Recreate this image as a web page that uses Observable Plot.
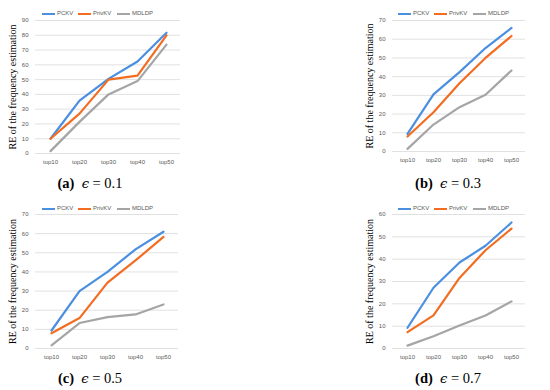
<!DOCTYPE html>
<html>
<head>
<meta charset="utf-8">
<script src="https://cdn.jsdelivr.net/npm/d3@7"></script>
<script src="https://cdn.jsdelivr.net/npm/@observablehq/plot@0.6"></script>
<style>
  html, body { margin: 0; padding: 0; background: #fff; }
  #fig { position: relative; width: 550px; height: 390px; overflow: hidden; background: #fff; }
  .panel { position: absolute; }
  .legend { position: absolute; font-family: "Liberation Sans", Arial, sans-serif; font-size: 6px; color: #595959; white-space: nowrap; }
  .legend span.item { position: absolute; top: 0; }
  .legend span.sw { position: absolute; height: 2px; }
  .caption { position: absolute; font-family: "Liberation Serif", "DejaVu Serif", serif; font-size: 14.5px; color: #000; white-space: nowrap; transform: translate(-50%, -50%); }
  .caption b { font-weight: bold; }
  .caption i { font-family: "DejaVu Serif", serif; font-style: italic; font-size: 13px; }
</style>
</head>
<body>
<div id="fig"></div>
<script>
// ---- data ----
const categories = ["top10", "top20", "top30", "top40", "top50"];
const seriesNames = ["PCKV", "PrivKV", "MDLDP"];
const seriesColors = ["#4a8fe0", "#f26d21", "#a5a5a5"];

// (a) epsilon = 0.1
const aPCKV  = [10, 35.8, 50.5, 62.3, 81.7];
const aPrivKV = [10, 27, 50, 52.7, 80];
const aMDLDP = [1.6, 21.4, 40, 49, 73.7];
// (b) epsilon = 0.3
const bPCKV  = [9.4, 30.5, 42.4, 55.3, 66];
const bPrivKV = [8, 21, 36.5, 50, 61.7];
const bMDLDP = [1.4, 14.4, 23.7, 30.3, 43.3];
// (c) epsilon = 0.5
const cPCKV  = [9.4, 30, 40, 51.8, 61];
const cPrivKV = [8, 15.9, 34.4, 46, 58.3];
const cMDLDP = [1.6, 13.3, 16.4, 17.8, 23];
// (d) epsilon = 0.7
const dPCKV  = [9.3, 27.2, 38.5, 46, 56.4];
const dPrivKV = [7.3, 14.8, 31.6, 44, 53.7];
const dMDLDP = [1.3, 5.5, 10.3, 14.8, 21.1];

const panelLetters = ["a", "b", "c", "d"];
const panelEpsilons = ["0.1", "0.3", "0.5", "0.7"];
const panelYMax = [90, 70, 70, 60];
const yLabel = "RE of the frequency estimation";

const panelSeries = [
  [aPCKV, aPrivKV, aMDLDP],
  [bPCKV, bPrivKV, bMDLDP],
  [cPCKV, cPrivKV, cMDLDP],
  [dPCKV, dPrivKV, dMDLDP]
];

// ---- layout (positions only) ----
const layout = [
  {left: 0,   top: 0,   width: 200, height: 170, mL: 35, mR: 20, mT: 20, mB: 17, legX: 42,  legY: 10, capX: 90,  capY: 183},
  {left: 350, top: 0,   width: 190, height: 168, mL: 42, mR: 15, mT: 20, mB: 17, legX: 398, legY: 10, capX: 448, capY: 183},
  {left: 0,   top: 195, width: 200, height: 170, mL: 35, mR: 22, mT: 19, mB: 17, legX: 42,  legY: 205, capX: 90,  capY: 378},
  {left: 350, top: 195, width: 190, height: 170, mL: 42, mR: 15, mT: 19, mB: 17, legX: 398, legY: 205, capX: 448, capY: 378}
];
const legendOffsets = [[0, 15], [36, 51], [75, 90]]; // line start, text start

const fig = document.getElementById("fig");

panelSeries.forEach((arrs, pi) => {
  const L = layout[pi];
  const rows = [];
  arrs.forEach((vals, si) => {
    vals.forEach((v, ci) => rows.push({series: seriesNames[si], cat: categories[ci], value: v}));
  });
  const ymax = panelYMax[pi];
  const ticks = d3.range(0, ymax + 1, 10);
  const chart = Plot.plot({
    width: L.width,
    height: L.height,
    marginLeft: L.mL,
    marginRight: L.mR,
    marginTop: L.mT,
    marginBottom: L.mB,
    style: {fontFamily: "'Liberation Sans', Arial, sans-serif", fontSize: "6px", color: "#595959", background: "#fff", overflow: "visible"},
    x: {type: "point", domain: categories, padding: 0.5},
    y: {domain: [0, ymax]},
    color: {domain: seriesNames, range: seriesColors},
    marks: [
      Plot.gridY(ticks, {stroke: "#d9d9d9", strokeOpacity: 1, strokeWidth: 0.8}),
      Plot.axisY(ticks, {tickSize: 0, tickPadding: 7, label: null, fill: "#595959"}),
      Plot.axisX({tickSize: 0, tickPadding: 6, label: null, fill: "#595959"}),
      Plot.text([yLabel], {frameAnchor: "left", text: d => d, rotate: -90, dx: -23, textAnchor: "middle", lineAnchor: "middle",
        fontFamily: "'Liberation Serif', 'Times New Roman', serif", fontSize: 10, fill: "#000"}),
      Plot.line(rows, {x: "cat", y: "value", z: "series", stroke: "series", strokeWidth: 2.2, strokeLinejoin: "round"})
    ]
  });
  chart.classList.add("panel");
  chart.style.left = L.left + "px";
  chart.style.top = L.top + "px";
  fig.appendChild(chart);

  // legend
  const leg = document.createElement("div");
  leg.className = "legend";
  leg.style.left = L.legX + "px";
  leg.style.top = L.legY + "px";
  seriesNames.forEach((name, si) => {
    const sw = document.createElement("span");
    sw.className = "sw";
    sw.style.left = legendOffsets[si][0] + "px";
    sw.style.width = "13px";
    sw.style.top = "2.5px";
    sw.style.background = seriesColors[si];
    leg.appendChild(sw);
    const t = document.createElement("span");
    t.className = "item";
    t.style.left = legendOffsets[si][1] + "px";
    t.textContent = name;
    leg.appendChild(t);
  });
  fig.appendChild(leg);

  // caption
  const cap = document.createElement("div");
  cap.className = "caption";
  cap.style.left = L.capX + "px";
  cap.style.top = L.capY + "px";
  cap.innerHTML = "<b>(" + panelLetters[pi] + ")</b>&nbsp;&nbsp;<i>\u03F5</i> = " + panelEpsilons[pi];
  fig.appendChild(cap);
});
</script>
</body>
</html>
